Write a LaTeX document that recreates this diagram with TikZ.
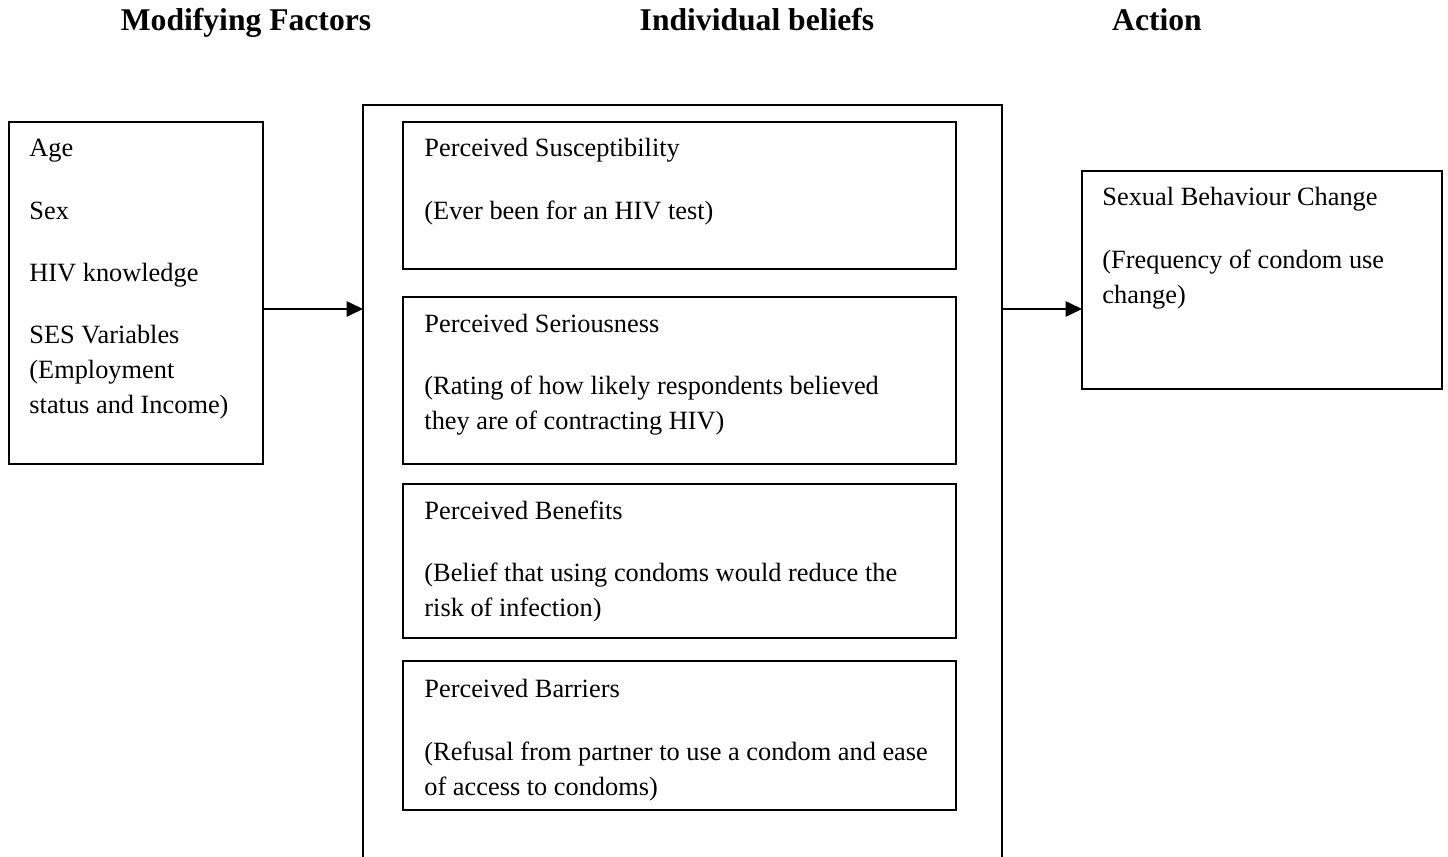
\documentclass[tikz,border=0pt]{standalone}
\usepackage{fontspec}
\setmainfont{Liberation Serif}
\usetikzlibrary{fit,arrows.meta}

\begin{document}
\begin{tikzpicture}[x=0.016cm, y=-0.016cm,
    box/.style={draw, line width=0.9pt, inner sep=0pt, outer sep=0pt},
    txt/.style={anchor=base west, inner sep=0pt, font=\fontsize{12}{14}\selectfont},
    head/.style={anchor=base, inner sep=0pt, font=\fontsize{14.4}{17}\selectfont\bfseries},
    link/.style={line width=0.9pt, -{Triangle[length=7.5pt,width=7pt]}}]
  \useasboundingbox (0,0) rectangle (1448,857);

  % column headings
  \node[head] (hmod) at (246,31) {Modifying Factors};
  \node[head] (hbel) at (757,31) {Individual beliefs};
  \node[head] (hact) at (1157,31) {Action};

  % modifying factors
  \node[box, fit={(9,122) (263,464)}] (mod) {};
  \node[txt] (age) at (29,157) {Age};
  \node[txt] (sex) at (29,220) {Sex};
  \node[txt] (know) at (29,282) {HIV knowledge};
  \node[txt] (ses) at (29,344) {SES Variables};
  \node[txt] (emp) at (29,379) {(Employment};
  \node[txt] (inc) at (29,414) {status and Income)};

  % individual beliefs - container open at the bottom
  \draw[line width=0.9pt] (363,857) -- (363,105) -- (1002,105) -- (1002,857);
  \coordinate (belL) at (363,309);
  \coordinate (belR) at (1002,309);

  \node[box, fit={(403,122) (956,269)}] (susc) {};
  \node[txt] (susc1) at (424,157) {Perceived Susceptibility};
  \node[txt] (susc2) at (424,220) {(Ever been for an HIV test)};

  \node[box, fit={(403,297) (956,464)}] (seri) {};
  \node[txt] (seri1) at (424,333) {Perceived Seriousness};
  \node[txt] (seri2) at (424,395) {(Rating of how likely respondents believed};
  \node[txt] (seri3) at (424,430) {they are of contracting HIV)};

  \node[box, fit={(403,484) (956,638)}] (bene) {};
  \node[txt] (bene1) at (424,520) {Perceived Benefits};
  \node[txt] (bene2) at (424,582) {(Belief that using condoms would reduce the};
  \node[txt] (bene3) at (424,617) {risk of infection)};

  \node[box, fit={(403,661) (956,810)}] (barr) {};
  \node[txt] (barr1) at (424,698) {Perceived Barriers};
  \node[txt] (barr2) at (424,760) {(Refusal from partner to use a condom and ease};
  \node[txt] (barr3) at (424,795) {of access to condoms)};

  % action
  \node[box, fit={(1082,171) (1442,389)}] (act) {};
  \node[txt] (act1) at (1102,206) {Sexual Behaviour Change};
  \node[txt] (act2) at (1102,269) {(Frequency of condom use};
  \node[txt] (act3) at (1102,304) {change)};

  % arrows
  \draw[link] (mod.east |- belL) -- (belL);
  \draw[link] (belR) -- (act.west |- belR);
\end{tikzpicture}
\end{document}
